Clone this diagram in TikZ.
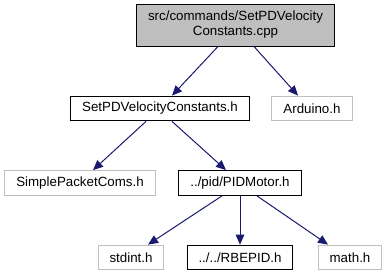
\documentclass[tikz,border=0pt]{standalone}
\usepackage{fontspec}
\setmainfont{Liberation Sans}
\usetikzlibrary{arrows.meta,calc}

\definecolor{edgeblue}{HTML}{191970}
\definecolor{boxgray}{HTML}{BFBFBF}

\tikzset{
    file/.style={draw=black, line width=0.75pt, inner xsep=8.6pt, inner ysep=0pt,
        minimum height=18.6pt, font=\fontsize{10}{11.2}\selectfont},
    extfile/.style={file, draw=boxgray},
    dep/.style={draw=edgeblue, line width=0.75pt,
        -{Triangle[length=7.5pt,width=6.5pt]}},
}

\begin{document}
\begin{tikzpicture}[x=0.75pt,y=-0.75pt]
        \useasboundingbox (0,0) rectangle (386,276);

        \draw (235.5,25) node[file,fill=boxgray,align=center,minimum height=31.5pt](top) {src/commands/SetPDVelocity\\Constants.cpp};

        \draw (160,108.5) node[file](setpd) {SetPDVelocityConstants.h};
        \draw (312,108.5) node[extfile](arduino) {Arduino.h};

        \draw (80,183) node[extfile](simple) {SimplePacketComs.h};
        \draw (240,183) node[file](pidmotor) {../pid/PIDMotor.h};

        \draw (131,257.5) node[extfile](stdint) {stdint.h};
        \draw (240,257.5) node[file](rbepid) {../../RBEPID.h};
        \draw (350,257.5) node[extfile](math) {math.h};

        \draw[dep] ($(top.south)+(-17.5,0)$) -- ($(setpd.north)+(12,0)$);
        \draw[dep] ($(top.south)+(18.5,0)$) -- ($(arduino.north)+(-14,0)$);
        \draw[dep] ($(setpd.south)+(-14,0)$) -- ($(simple.north)+(13,0)$);
        \draw[dep] ($(setpd.south)+(12,0)$) -- ($(pidmotor.north)+(-14,0)$);
        \draw[dep] ($(pidmotor.south)+(-18,0)$) -- ($(stdint.north)+(17,0)$);
        \draw[dep] (pidmotor.south) -- (rbepid.north);
        \draw[dep] ($(pidmotor.south)+(17,0)$) -- ($(math.north)+(-22,0)$);
\end{tikzpicture}
\end{document}
